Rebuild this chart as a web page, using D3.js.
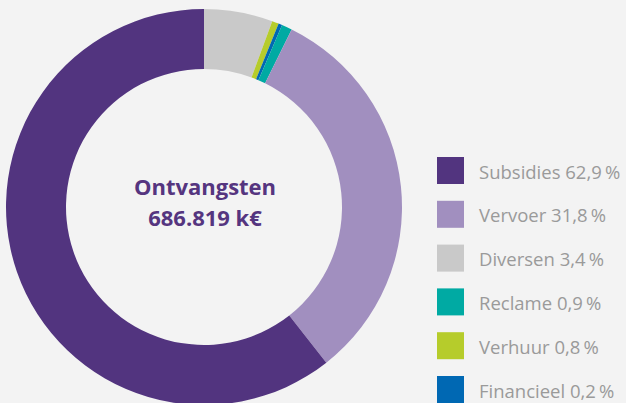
<!DOCTYPE html>
<html>
<head>
<meta charset="utf-8">
<script src="https://cdn.jsdelivr.net/npm/d3@7"></script>
<style>
  html, body { margin: 0; padding: 0; background: #f3f3f3; }
  svg { display: block; font-family: "Open Sans", "Noto Sans", sans-serif; }
  .legend-label { fill: #9a9a9a; font-size: 18.5px; }
  .center-label { fill: #55357f; font-size: 22px; font-weight: 700; }
</style>
</head>
<body>
<svg class="donut" width="626" height="403"></svg>
<script>
// Slices in drawing order, clockwise from 12 o'clock
const sliceNames = ['Diversen', 'Verhuur', 'Financieel', 'Reclame', 'Vervoer', 'Subsidies'];
const sliceShares = [5.6, 0.55, 0.3, 0.85, 32.1, 60.6];

// Legend order and the labels printed next to it
const legendNames = ['Subsidies', 'Vervoer', 'Diversen', 'Reclame', 'Verhuur', 'Financieel'];
const legendPct = ['62,9\u2009%', '31,8\u2009%', '3,4\u2009%', '0,9\u2009%', '0,8\u2009%', '0,2\u2009%'];

const colours = {
  Subsidies: '#52347f',
  Vervoer: '#a18fbf',
  Diversen: '#c9c9c9',
  Reclame: '#00aaa3',
  Verhuur: '#b6cc2b',
  Financieel: '#0068b3'
};

const centerLines = ['Ontvangsten', '686.819 k€'];

const svg = d3.select('svg.donut');

const slices = sliceNames.map((name, i) => ({ name, value: sliceShares[i] }));

const pie = d3.pie()
  .sort(null) // keep the drawing order
  .value(d => d.value);

const arc = d3.arc()
  .innerRadius(138)
  .outerRadius(198);

const donut = svg.append('g')
  .attr('transform', 'translate(204, 207)');

donut.selectAll('path')
  .data(pie(slices))
  .enter()
  .append('path')
  .attr('d', arc)
  .attr('fill', d => colours[d.data.name]);

// Text in the hole
donut.selectAll('text')
  .data(centerLines)
  .enter()
  .append('text')
  .attr('class', 'center-label')
  .attr('x', 1)
  .attr('y', (d, i) => -21 + i * 31)
  .attr('text-anchor', 'middle')
  .attr('dominant-baseline', 'central')
  .text(d => d);

// Legend
const rowScale = d3.scalePoint()
  .domain(legendNames)
  .range([157, 376]);

const rows = svg.append('g')
  .selectAll('g')
  .data(legendNames)
  .enter()
  .append('g')
  .attr('transform', d => `translate(437, ${rowScale(d)})`);

rows.append('rect')
  .attr('width', 27)
  .attr('height', 27)
  .attr('fill', d => colours[d]);

rows.append('text')
  .attr('class', 'legend-label')
  .attr('x', 42)
  .attr('y', 14)
  .attr('dominant-baseline', 'central')
  .text((d, i) => `${d} ${legendPct[i]}`);
</script>
</body>
</html>
